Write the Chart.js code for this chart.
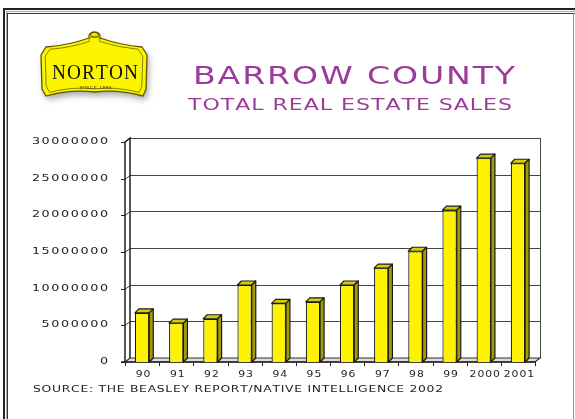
<!DOCTYPE html>
<html>
<head>
<meta charset="utf-8">
<script src="https://cdn.jsdelivr.net/npm/chart.js@4.4.1/dist/chart.umd.min.js"></script>
<style>
  html, body { margin: 0; padding: 0; background: #fff; }
  #wrap { position: relative; width: 575px; height: 419px; }
</style>
</head>
<body>
<div id="wrap"><canvas id="c" width="575" height="419"></canvas></div>
<script>
const years = ['90', '91', '92', '93', '94', '95', '96', '97', '98', '99', '2000', '2001'];
const sales = [6700000, 5300000, 5900000, 10500000, 8000000, 8200000, 10500000, 12800000, 15100000, 20700000, 27800000, 27100000];
const yTicks = [0, 5000000, 10000000, 15000000, 20000000, 25000000, 30000000];

const TITLE = 'BARROW COUNTY';
const SUBTITLE = 'TOTAL REAL ESTATE SALES';
const SOURCE = 'SOURCE: THE BEASLEY REPORT/NATIVE INTELLIGENCE 2002';
const PURPLE = '#9c3b9a';

// wall depth and bar depth for the fake 3d look
const WALL_DX = 5, WALL_DY = 4;
const BAR_DX = 4, BAR_DY = 4;

// draws text stretched horizontally, char by char, optionally fitted to a width
function wideText(ctx, text, x, y, font, opts) {
    const stretch = opts.stretch || 1;
    const chars = [...text];
    ctx.font = font;
    const ws = chars.map((ch) => ctx.measureText(ch).width * stretch);
    const sum = ws.reduce((a, b) => a + b, 0);
    let gap = opts.spacing || 0;
    if (opts.width && chars.length > 1) {
        gap = (opts.width - sum) / (chars.length - 1);
    }
    const total = sum + gap * (chars.length - 1);
    let cx = x;
    if (opts.align === 'right') cx = x - total;
    else if (opts.align === 'center') cx = x - total / 2;
    ctx.textAlign = 'left';
    chars.forEach((ch, i) => {
        ctx.save();
        ctx.translate(cx, y);
        ctx.scale(stretch, 1);
        ctx.fillText(ch, 0, 0);
        ctx.restore();
        cx += ws[i] + gap;
    });
}

function shieldPath(ctx) {
    ctx.beginPath();
    ctx.moveTo(46, 47);
    ctx.quadraticCurveTo(70, 45, 89, 38);
    ctx.bezierCurveTo(87, 30, 102, 30, 100, 38);
    ctx.quadraticCurveTo(120, 45, 142, 47);
    ctx.lineTo(147, 55);
    ctx.lineTo(146, 89);
    ctx.lineTo(143, 96);
    ctx.quadraticCurveTo(118, 89, 95, 92);
    ctx.quadraticCurveTo(70, 89, 46, 96);
    ctx.lineTo(42, 89);
    ctx.lineTo(41, 55);
    ctx.closePath();
}

function drawLogo(ctx) {
    ctx.save();
    shieldPath(ctx);
    ctx.shadowColor = 'rgba(0,0,0,0.35)';
    ctx.shadowBlur = 6;
    ctx.shadowOffsetX = 2;
    ctx.shadowOffsetY = 4;
    ctx.fillStyle = '#fbf500';
    ctx.fill();
    ctx.restore();

    ctx.save();
    shieldPath(ctx);
    ctx.lineWidth = 1.3;
    ctx.strokeStyle = '#5e5800';
    ctx.stroke();
    // inner outline
    ctx.translate(94, 66);
    ctx.scale(0.92, 0.88);
    ctx.translate(-94, -66);
    shieldPath(ctx);
    ctx.lineWidth = 1;
    ctx.strokeStyle = '#7d7600';
    ctx.stroke();
    ctx.restore();

    // knob ring
    ctx.save();
    ctx.beginPath();
    ctx.ellipse(94.5, 35, 4, 2.5, 0, 0, Math.PI * 2);
    ctx.strokeStyle = '#5e5800';
    ctx.lineWidth = 1;
    ctx.stroke();
    ctx.restore();

    ctx.save();
    ctx.fillStyle = '#111';
    ctx.textBaseline = 'alphabetic';
    wideText(ctx, 'NORTON', 95, 79, '21px "Liberation Serif"', { stretch: 0.92, width: 86, align: 'center' });
    wideText(ctx, 'SINCE 1888', 95.5, 88.5, '5px "Liberation Serif"', { stretch: 1, width: 32, align: 'center' });
    ctx.restore();
}

function drawFrame(ctx) {
    ctx.save();
    ctx.fillStyle = '#222';
    ctx.fillRect(3, 8, 572, 2);
    ctx.fillRect(3, 8, 2, 411);
    ctx.fillStyle = '#aaa';
    ctx.fillRect(6, 11, 569, 1);
    ctx.fillRect(6, 11, 1, 408);
    ctx.fillStyle = '#333';
    ctx.fillRect(7, 13, 568, 1);
    ctx.fillRect(7, 13, 1, 406);
    ctx.fillStyle = '#999';
    ctx.fillRect(573, 13, 1, 406);
    ctx.restore();
}

const pagePlugin = {
    id: 'page',
    beforeDraw(chart) {
        const ctx = chart.ctx;
        ctx.save();
        ctx.fillStyle = '#fff';
        ctx.fillRect(0, 0, chart.width, chart.height);
        ctx.restore();
        drawFrame(ctx);
        drawLogo(ctx);

        ctx.save();
        ctx.fillStyle = PURPLE;
        ctx.textBaseline = 'alphabetic';
        wideText(ctx, TITLE, 193, 84, '24px "DejaVu Sans"', { stretch: 1.38, width: 322 });
        wideText(ctx, SUBTITLE, 188, 110, '16px "DejaVu Sans"', { stretch: 1.38, width: 324 });
        ctx.fillStyle = '#222';
        ctx.textBaseline = 'middle';
        wideText(ctx, SOURCE, 33, 390, '9.5px "DejaVu Sans"', { stretch: 1.3, width: 410 });
        ctx.restore();
    },
    beforeDatasetsDraw(chart) {
        const ctx = chart.ctx;
        const { left, right, top, bottom } = chart.chartArea;
        const x = chart.scales.x;
        const y = chart.scales.y;
        ctx.save();

        // back wall gridlines
        ctx.strokeStyle = '#444';
        ctx.lineWidth = 1;
        yTicks.forEach((v) => {
            const py = Math.round(y.getPixelForValue(v)) + 0.5;
            ctx.beginPath();
            ctx.moveTo(left, py);
            ctx.lineTo(left + WALL_DX, py - WALL_DY);
            ctx.lineTo(right + WALL_DX, py - WALL_DY);
            ctx.stroke();
        });
        // back wall right edge
        ctx.beginPath();
        ctx.moveTo(right + WALL_DX + 0.5, top - WALL_DY);
        ctx.lineTo(right + WALL_DX + 0.5, bottom - WALL_DY);
        ctx.stroke();

        // left wall
        ctx.strokeStyle = '#222';
        ctx.lineWidth = 1.5;
        ctx.beginPath();
        ctx.moveTo(left, bottom);
        ctx.lineTo(left, top);
        ctx.lineTo(left + WALL_DX, top - WALL_DY);
        ctx.lineTo(left + WALL_DX, bottom - WALL_DY);
        ctx.stroke();

        // floor
        ctx.beginPath();
        ctx.moveTo(left, bottom);
        ctx.lineTo(right, bottom);
        ctx.lineTo(right + WALL_DX, bottom - WALL_DY);
        ctx.lineTo(left + WALL_DX, bottom - WALL_DY);
        ctx.closePath();
        ctx.fillStyle = '#dcdcdc';
        ctx.fill();
        ctx.lineWidth = 1.2;
        ctx.strokeStyle = '#333';
        ctx.stroke();
        ctx.lineWidth = 1.5;
        ctx.strokeStyle = '#222';
        ctx.beginPath();
        ctx.moveTo(left - 4, bottom);
        ctx.lineTo(right, bottom);
        ctx.stroke();

        // y ticks + labels
        ctx.lineWidth = 1;
        ctx.fillStyle = '#222';
        ctx.textBaseline = 'middle';
        yTicks.forEach((v) => {
            const py = Math.round(y.getPixelForValue(v)) + 0.5;
            ctx.beginPath();
            ctx.moveTo(left - 4, py);
            ctx.lineTo(left, py);
            ctx.stroke();
            wideText(ctx, String(v), 108, py - 1, '8.5px "DejaVu Sans"', { stretch: 1.5, spacing: 1.6, align: 'right' });
        });

        // x ticks + labels
        const step = (right - left) / years.length;
        for (let i = 0; i <= years.length; i++) {
            const px = Math.round(left + i * step) + 0.5;
            ctx.beginPath();
            ctx.moveTo(px, bottom);
            ctx.lineTo(px, bottom + 4);
            ctx.stroke();
        }
        years.forEach((lab, i) => {
            wideText(ctx, lab, x.getPixelForValue(i) + 1, 375, '8px "DejaVu Sans"', { stretch: 1.35, spacing: 1, align: 'center' });
        });
        ctx.restore();
    },
    afterDatasetsDraw(chart) {
        const ctx = chart.ctx;
        const meta = chart.getDatasetMeta(0);
        ctx.save();
        ctx.lineWidth = 1.2;
        ctx.strokeStyle = '#1a1a1a';
        ctx.lineJoin = 'round';
        meta.data.forEach((bar) => {
            const p = bar.getProps(['x', 'y', 'base', 'width'], true);
            const x0 = p.x - p.width / 2;
            const x1 = p.x + p.width / 2;
            // top face
            ctx.beginPath();
            ctx.moveTo(x0, p.y);
            ctx.lineTo(x0 + BAR_DX, p.y - BAR_DY);
            ctx.lineTo(x1 + BAR_DX, p.y - BAR_DY);
            ctx.lineTo(x1, p.y);
            ctx.closePath();
            ctx.fillStyle = '#d6cd00';
            ctx.fill();
            ctx.stroke();
            // side face
            ctx.beginPath();
            ctx.moveTo(x1, p.y);
            ctx.lineTo(x1 + BAR_DX, p.y - BAR_DY);
            ctx.lineTo(x1 + BAR_DX, p.base - BAR_DY);
            ctx.lineTo(x1, p.base);
            ctx.closePath();
            ctx.fillStyle = '#a39b00';
            ctx.fill();
            ctx.stroke();
        });
        ctx.restore();
    },
};

new Chart(document.getElementById('c'), {
    type: 'bar',
    data: {
        labels: years,
        datasets: [{
            data: sales,
            backgroundColor: '#fff200',
            borderColor: '#1a1a1a',
            borderWidth: 1.2,
            barPercentage: 0.42,
            categoryPercentage: 1,
        }],
    },
    options: {
        responsive: false,
        animation: false,
        devicePixelRatio: 1,
        layout: { padding: { left: 20, right: 40, top: 142, bottom: 20 } },
        plugins: {
            legend: { display: false },
            tooltip: { enabled: false },
        },
        scales: {
            x: {
                grid: { display: false, drawTicks: false },
                border: { display: false },
                ticks: { display: false },
                afterFit: (s) => { s.height = 37; },
            },
            y: {
                min: 0,
                max: 30000000,
                grid: { display: false, drawTicks: false },
                border: { display: false },
                ticks: { display: false, stepSize: 5000000 },
                afterFit: (s) => { s.width = 105; },
            },
        },
    },
    plugins: [pagePlugin],
});
</script>
</body>
</html>
